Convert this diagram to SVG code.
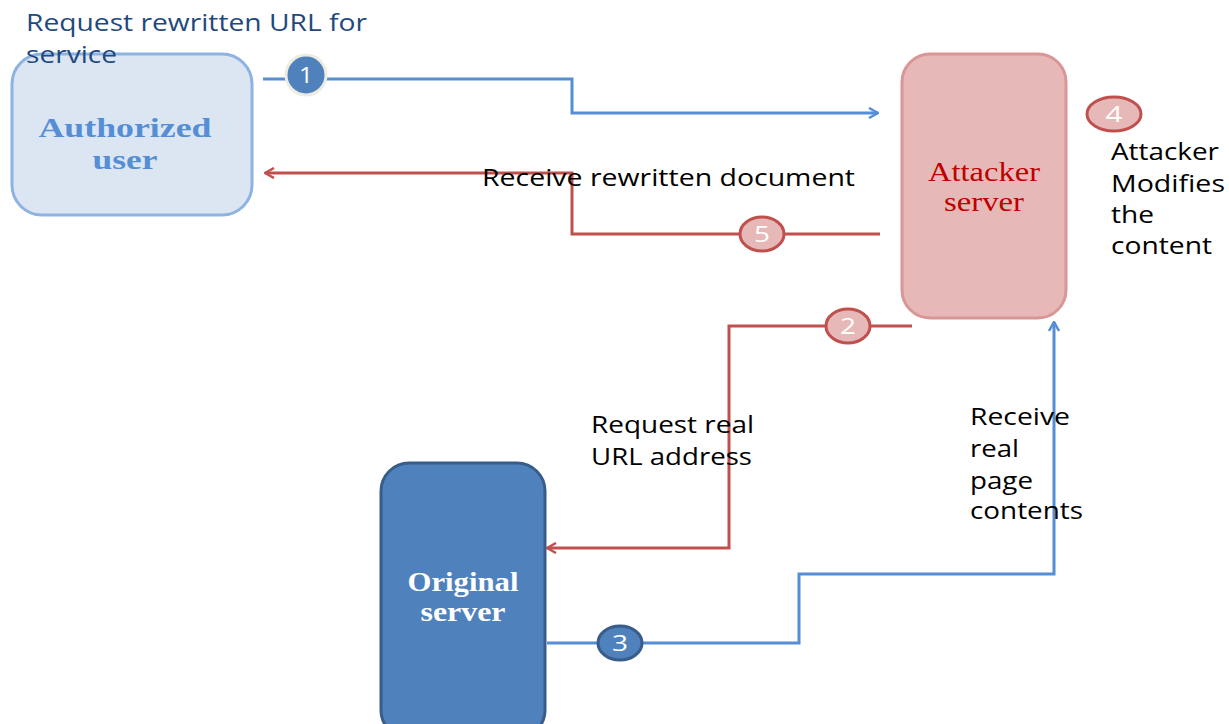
<svg xmlns="http://www.w3.org/2000/svg" width="1229" height="724" viewBox="0 0 1229 724">
<style>
.lbl{font-family:"Open Sans","DejaVu Sans",sans-serif;font-size:23px;fill:#000}
.top{fill:#1f497d}
.node{font-family:"Liberation Serif","Times New Roman",serif;font-size:27px;text-anchor:middle}
.num{font-family:"Open Sans","DejaVu Sans",sans-serif;font-size:22px;fill:#fff;text-anchor:middle}
.blue{fill:none;stroke:#558ed5;stroke-width:3}
.red{fill:none;stroke:#c0504d;stroke-width:3}
</style>
<defs>
<marker id="ab" viewBox="0 0 12 12" refX="11" refY="6" markerWidth="12" markerHeight="12" markerUnits="userSpaceOnUse" orient="auto"><path d="M2,1 L11,6 L2,11" fill="none" stroke="#558ed5" stroke-width="2.5"/></marker>
<marker id="ar" viewBox="0 0 12 12" refX="11" refY="6" markerWidth="12" markerHeight="12" markerUnits="userSpaceOnUse" orient="auto"><path d="M2,1 L11,6 L2,11" fill="none" stroke="#c0504d" stroke-width="2.5"/></marker>
</defs>
<rect width="1229" height="724" fill="#fff"/>
<g id="connectors">
<polyline class="blue" points="263,79 572,79 572,113 878,113" marker-end="url(#ab)"/>
<polyline class="red" points="880,234 572,234 572,173 265,173" marker-end="url(#ar)"/>
<polyline class="red" points="912,326 729,326 729,548 547,548" marker-end="url(#ar)"/>
<polyline class="blue" points="547,643 799,643 799,574 1054,574 1054,322" marker-end="url(#ab)"/>
</g>
<g id="authorized-user">
<rect x="12" y="54" width="240" height="161" rx="30" fill="#dce6f2" stroke="#8db3e2" stroke-width="3"/>
<text class="node" x="125" y="137" font-weight="bold" fill="#558ed5" textLength="173" lengthAdjust="spacingAndGlyphs">Authorized</text>
<text class="node" x="125" y="169" font-weight="bold" fill="#558ed5" textLength="65" lengthAdjust="spacingAndGlyphs">user</text>
</g>
<g id="attacker-server">
<rect x="902" y="54" width="164" height="264" rx="28" fill="#e6b9b8" stroke="#d99694" stroke-width="3"/>
<text class="node" x="984" y="181" fill="#c00000" font-size="26" textLength="112" lengthAdjust="spacingAndGlyphs">Attacker</text>
<text class="node" x="984" y="211" fill="#c00000" font-size="26" textLength="80" lengthAdjust="spacingAndGlyphs">server</text>
</g>
<g id="original-server">
<rect x="381" y="463" width="164" height="275" rx="28" fill="#4f81bd" stroke="#385d8a" stroke-width="3"/>
<text class="node" x="463" y="591" font-weight="bold" fill="#fff" font-size="26" textLength="111" lengthAdjust="spacingAndGlyphs">Original</text>
<text class="node" x="463" y="621" font-weight="bold" fill="#fff" font-size="26" textLength="85" lengthAdjust="spacingAndGlyphs">server</text>
</g>
<g id="badge1">
<circle cx="306" cy="75" r="20" fill="#4f81bd" stroke="#eeece1" stroke-width="3"/>
<text class="num" x="306" y="83" textLength="14" lengthAdjust="spacingAndGlyphs">1</text>
</g>
<g id="badge2">
<ellipse cx="848" cy="326" rx="22" ry="17" fill="#e6b9b8" stroke="#c0504d" stroke-width="3"/>
<text class="num" x="848" y="334" textLength="16" lengthAdjust="spacingAndGlyphs">2</text>
</g>
<g id="badge3">
<ellipse cx="620" cy="643" rx="22" ry="17" fill="#4f81bd" stroke="#385d8a" stroke-width="3"/>
<text class="num" x="620" y="651" textLength="16" lengthAdjust="spacingAndGlyphs">3</text>
</g>
<g id="badge4">
<ellipse cx="1114" cy="114" rx="27" ry="17" fill="#e6b9b8" stroke="#c0504d" stroke-width="3"/>
<text class="num" x="1114" y="122" textLength="17" lengthAdjust="spacingAndGlyphs">4</text>
</g>
<g id="badge5">
<ellipse cx="762" cy="234" rx="22" ry="17" fill="#e6b9b8" stroke="#c0504d" stroke-width="3"/>
<text class="num" x="762" y="242" textLength="16" lengthAdjust="spacingAndGlyphs">5</text>
</g>
<g id="labels">
<text class="lbl top" x="26" y="31" textLength="341" lengthAdjust="spacingAndGlyphs">Request rewritten URL for</text>
<text class="lbl top" x="26" y="63" textLength="91" lengthAdjust="spacingAndGlyphs">service</text>
<text class="lbl" x="482" y="186" textLength="373" lengthAdjust="spacingAndGlyphs">Receive rewritten document</text>
<text class="lbl" x="1111" y="160" textLength="108" lengthAdjust="spacingAndGlyphs">Attacker</text>
<text class="lbl" x="1111" y="192" textLength="114" lengthAdjust="spacingAndGlyphs">Modifies</text>
<text class="lbl" x="1111" y="223" textLength="43" lengthAdjust="spacingAndGlyphs">the</text>
<text class="lbl" x="1111" y="254" textLength="101" lengthAdjust="spacingAndGlyphs">content</text>
<text class="lbl" x="591" y="433" textLength="163" lengthAdjust="spacingAndGlyphs">Request real</text>
<text class="lbl" x="591" y="465" textLength="161" lengthAdjust="spacingAndGlyphs">URL address</text>
<text class="lbl" x="970" y="425" textLength="100" lengthAdjust="spacingAndGlyphs">Receive</text>
<text class="lbl" x="970" y="457" textLength="49" lengthAdjust="spacingAndGlyphs">real</text>
<text class="lbl" x="970" y="489" textLength="63" lengthAdjust="spacingAndGlyphs">page</text>
<text class="lbl" x="970" y="519" textLength="113" lengthAdjust="spacingAndGlyphs">contents</text>
</g>
</svg>
